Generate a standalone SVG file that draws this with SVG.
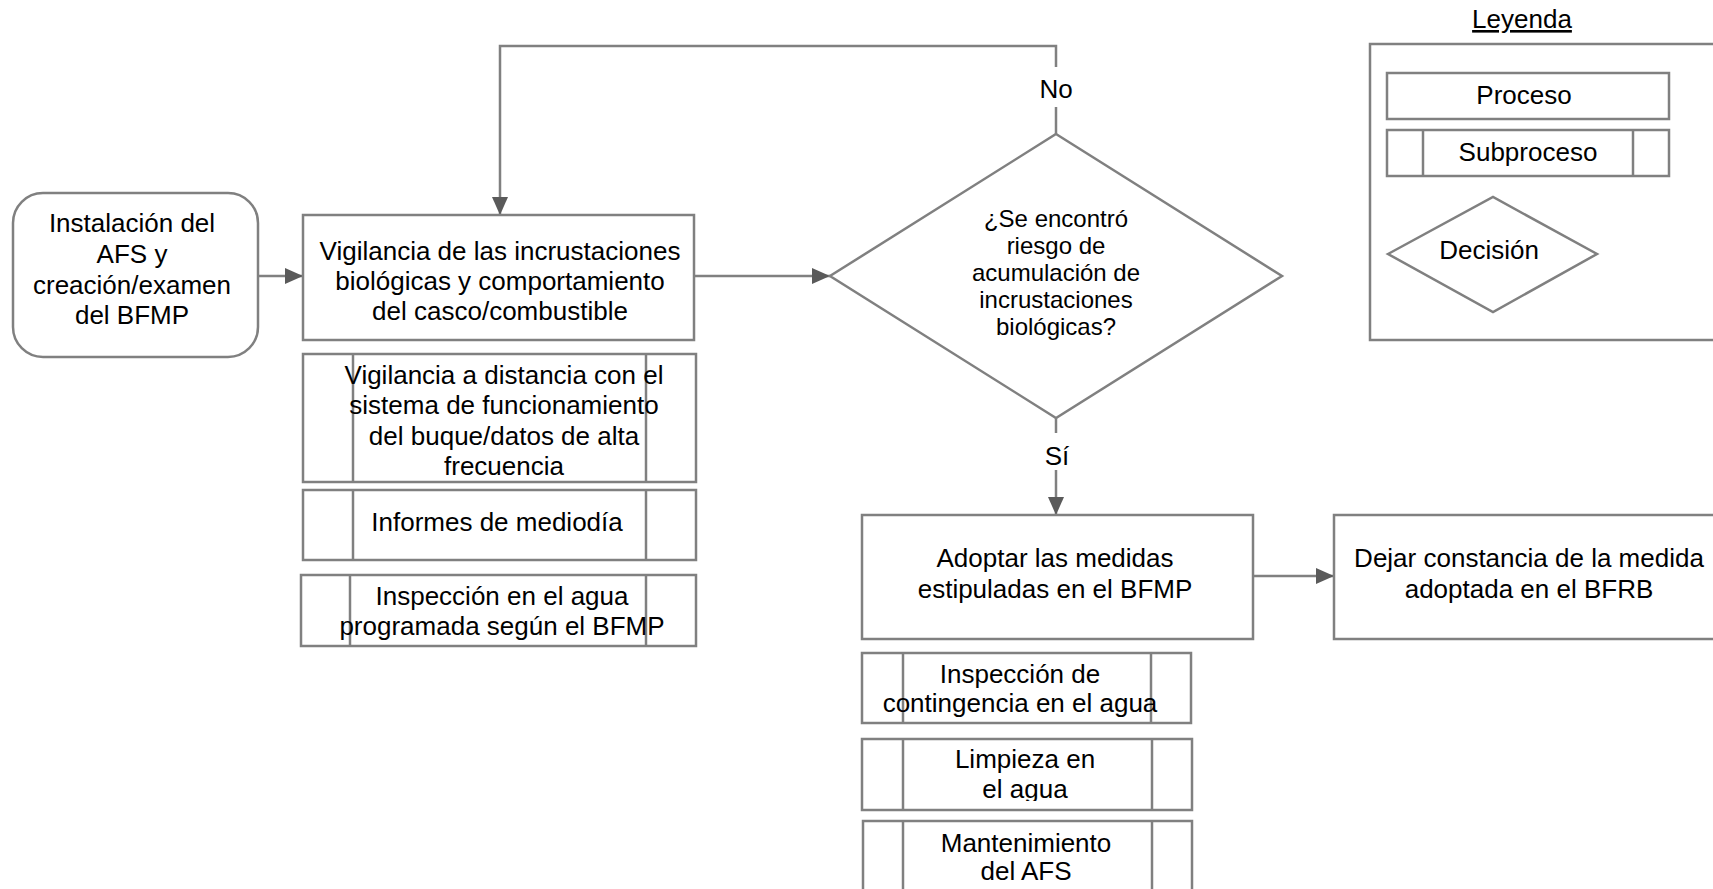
<svg xmlns="http://www.w3.org/2000/svg" width="1713" height="889" viewBox="0 0 1713 889">
<style>
.b{fill:#fff;stroke:#808080;stroke-width:2.5}
.l{fill:none;stroke:#808080;stroke-width:2.5}
.c{fill:none;stroke:#808080;stroke-width:2.5}
text{font-family:"Liberation Sans",Arial,sans-serif;font-size:26px;fill:#000;text-anchor:middle}
text.d{font-size:24px}
</style>
<defs>
<marker id="ah" markerUnits="userSpaceOnUse" markerWidth="18" markerHeight="18" viewBox="0 0 18 18" refX="18" refY="9" orient="auto">
<path d="M0,1 L18,9 L0,17 z" fill="#5a5a5a"/>
</marker>
<clipPath id="clipB"><rect x="860" y="739" width="340" height="62"/></clipPath>
</defs>
<rect width="1713" height="889" fill="#fff"/>

<g id="connectors">
<line class="c" x1="258" y1="276" x2="303" y2="276" marker-end="url(#ah)"/>
<line class="c" x1="694" y1="276" x2="830" y2="276" marker-end="url(#ah)"/>
<polyline class="c" points="1056,67 1056,46 500,46 500,215" marker-end="url(#ah)"/>
<line class="c" x1="1056" y1="107" x2="1056" y2="134"/>
<line class="c" x1="1056" y1="418" x2="1056" y2="433"/>
<line class="c" x1="1056" y1="470" x2="1056" y2="515" marker-end="url(#ah)"/>
<line class="c" x1="1253" y1="576" x2="1334" y2="576" marker-end="url(#ah)"/>
<text x="1056" y="98">No</text>
<text x="1057" y="465">Sí</text>
</g>

<g id="start">
<rect class="b" x="13" y="193" width="245" height="164" rx="30" ry="30"/>
<text x="132" y="232">Instalación del</text>
<text x="132" y="263">AFS y</text>
<text x="132" y="294">creación/examen</text>
<text x="132" y="324">del BFMP</text>
</g>

<g id="monitor">
<rect class="b" x="303" y="215" width="391" height="125"/>
<text x="500" y="260">Vigilancia de las incrustaciones</text>
<text x="500" y="290">biológicas y comportamiento</text>
<text x="500" y="320">del casco/combustible</text>
</g>

<g id="sub-remote">
<rect class="b" x="303" y="354" width="393" height="128"/>
<line class="l" x1="353" y1="354" x2="353" y2="482"/>
<line class="l" x1="646" y1="354" x2="646" y2="482"/>
<text x="504" y="384">Vigilancia a distancia con el</text>
<text x="504" y="414">sistema de funcionamiento</text>
<text x="504" y="445">del buque/datos de alta</text>
<text x="504" y="475">frecuencia</text>
</g>

<g id="sub-noon">
<rect class="b" x="303" y="490" width="393" height="70"/>
<line class="l" x1="353" y1="490" x2="353" y2="560"/>
<line class="l" x1="646" y1="490" x2="646" y2="560"/>
<text x="497" y="531">Informes de mediodía</text>
</g>

<g id="sub-inspection">
<rect class="b" x="301" y="575" width="395" height="71"/>
<line class="l" x1="350" y1="575" x2="350" y2="646"/>
<line class="l" x1="646" y1="575" x2="646" y2="646"/>
<text x="502" y="605">Inspección en el agua</text>
<text x="502" y="635">programada según el BFMP</text>
</g>

<g id="decision">
<polygon class="b" points="1056,134 1282,276 1056,418 830,276"/>
<text class="d" x="1056" y="227">¿Se encontró</text>
<text class="d" x="1056" y="254">riesgo de</text>
<text class="d" x="1056" y="281">acumulación de</text>
<text class="d" x="1056" y="308">incrustaciones</text>
<text class="d" x="1056" y="335">biológicas?</text>
</g>

<g id="adopt">
<rect class="b" x="862" y="515" width="391" height="124"/>
<text x="1055" y="567">Adoptar las medidas</text>
<text x="1055" y="598">estipuladas en el BFMP</text>
</g>

<g id="record">
<rect class="b" x="1334" y="515" width="390" height="124"/>
<text x="1529" y="567">Dejar constancia de la medida</text>
<text x="1529" y="598">adoptada en el BFRB</text>
</g>

<g id="sub-contingency">
<rect class="b" x="862" y="653" width="329" height="70"/>
<line class="l" x1="903" y1="653" x2="903" y2="723"/>
<line class="l" x1="1151" y1="653" x2="1151" y2="723"/>
<text x="1020" y="683">Inspección de</text>
<text x="1020" y="712">contingencia en el agua</text>
</g>

<g id="sub-cleaning">
<rect class="b" x="862" y="739" width="330" height="71"/>
<line class="l" x1="903" y1="739" x2="903" y2="810"/>
<line class="l" x1="1152" y1="739" x2="1152" y2="810"/>
<text x="1025" y="768">Limpieza en</text>
<text x="1025" y="798" clip-path="url(#clipB)">el agua</text>
</g>

<g id="sub-maintenance">
<rect class="b" x="863" y="821" width="329" height="90"/>
<line class="l" x1="903" y1="821" x2="903" y2="911"/>
<line class="l" x1="1152" y1="821" x2="1152" y2="911"/>
<text x="1026" y="852">Mantenimiento</text>
<text x="1026" y="880">del AFS</text>
</g>

<g id="legend">
<text x="1522" y="28" text-decoration="underline">Leyenda</text>
<rect class="b" x="1370" y="44" width="360" height="296"/>
<rect class="b" x="1387" y="73" width="282" height="46"/>
<text x="1524" y="104">Proceso</text>
<rect class="b" x="1387" y="130" width="282" height="46"/>
<line class="l" x1="1423" y1="130" x2="1423" y2="176"/>
<line class="l" x1="1633" y1="130" x2="1633" y2="176"/>
<text x="1528" y="161">Subproceso</text>
<polygon class="b" points="1388,254 1493,197 1597,254 1493,312"/>
<text x="1489" y="259">Decisión</text>
</g>
</svg>
